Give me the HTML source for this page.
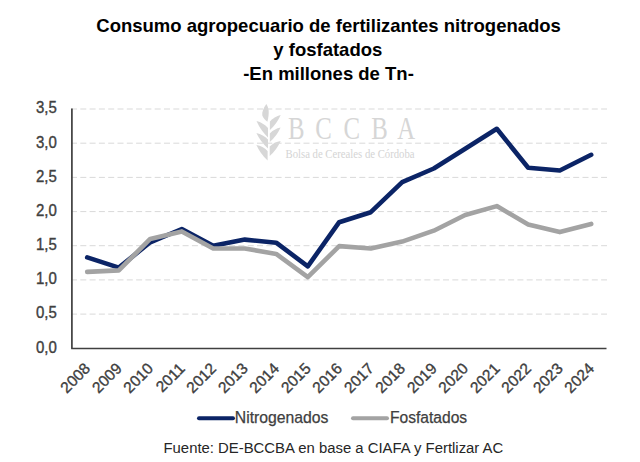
<!DOCTYPE html>
<html><head><meta charset="utf-8"><style>
html,body{margin:0;padding:0;background:#fff;}
body{width:640px;height:462px;overflow:hidden;position:relative;}
svg{position:absolute;left:0;top:0;}
.s{font-family:"Liberation Sans",sans-serif;}
.r{font-family:"Liberation Serif",serif;}
</style></head><body>
<svg width="640" height="462" viewBox="0 0 640 462">
<rect width="640" height="462" fill="#fff"/>
<g class="s" fill="#000" font-weight="bold" font-size="18.5" text-anchor="middle">
<text x="328.6" y="32">Consumo agropecuario de fertilizantes nitrogenados</text>
<text x="327.8" y="56">y fosfatados</text>
<text x="328.5" y="79.8">-En millones de Tn-</text>
</g>
<g fill="#d7d7d7"><path d="M256.50,121.00 Q263.29,122.79 268.00,128.00 L268.00,137.50 Q260.61,130.39 256.50,121.00Z"/><path d="M256.40,133.00 Q263.18,134.51 268.00,139.50 L268.00,148.50 Q260.60,141.95 256.40,133.00Z"/><path d="M256.40,145.00 Q262.94,146.24 267.60,151.00 L267.60,160.50 Q260.38,153.92 256.40,145.00Z"/><path d="M280.70,115.00 Q274.27,116.54 269.90,121.50 L269.90,130.00 Q276.92,123.67 280.70,115.00Z"/><path d="M280.60,127.50 Q274.23,128.75 269.80,133.50 L269.80,142.00 Q276.80,135.94 280.60,127.50Z"/><path d="M280.70,141.00 Q274.31,141.96 269.70,146.50 L269.70,156.00 Q276.81,149.68 280.70,141.00Z"/><path d="M266.3,104 C263.5,108 261.8,112 262.3,115.5 C263,118 265.5,120 267.4,121.8 C268.5,118 269,113 268.6,110 C268.2,107.5 267.4,105.5 266.3,104Z"/>
</g>
<g class="r" fill="#d6d6d6" font-size="31"><text transform="translate(296.2,139) scale(0.8,1)" text-anchor="middle">B</text><text transform="translate(323.5,139) scale(0.8,1)" text-anchor="middle">C</text><text transform="translate(351.75,139) scale(0.8,1)" text-anchor="middle">C</text><text transform="translate(379.5,139) scale(0.8,1)" text-anchor="middle">B</text><text transform="translate(406.3,139) scale(0.8,1)" text-anchor="middle">A</text></g>
<text class="r" fill="#d4d4d4" font-size="13" transform="translate(285.5,158) scale(0.824,1)">Bolsa de Cereales de Córdoba</text>
<g stroke="#d9d9d9" stroke-width="1" stroke-dasharray="6 3.3">
<line x1="71" y1="314.1" x2="607.0" y2="314.1" />
<line x1="71" y1="279.9" x2="607.0" y2="279.9" />
<line x1="71" y1="245.7" x2="607.0" y2="245.7" />
<line x1="71" y1="211.6" x2="607.0" y2="211.6" />
<line x1="71" y1="177.4" x2="607.0" y2="177.4" />
<line x1="71" y1="143.2" x2="607.0" y2="143.2" />
<line x1="71" y1="109.0" x2="607.0" y2="109.0" />
</g>
<g stroke="#404040" stroke-width="1.7" fill="none" stroke-linejoin="round">
<polyline points="71.9,108.6 71.9,348.5 606.5,348.5"/>
</g>
<g fill="none" stroke-width="4.6" stroke-linejoin="round" stroke-linecap="round">
<polyline stroke="#0b2466" points="87.2,257.4 118.8,267.6 150.2,242.3 181.8,229.0 213.2,245.7 244.8,239.6 276.2,242.7 307.8,266.3 339.2,222.2 370.8,212.2 402.2,182.2 433.8,168.5 465.2,148.7 496.8,128.8 528.2,167.8 559.8,170.5 591.2,154.8"/>
<polyline stroke="#a3a3a3" points="87.2,271.9 118.8,270.4 150.2,238.9 181.8,231.4 213.2,248.5 244.8,248.5 276.2,253.9 307.8,277.2 339.2,246.1 370.8,248.5 402.2,241.6 433.8,230.7 465.2,215.0 496.8,206.1 528.2,224.5 559.8,232.1 591.2,223.9"/>
</g>
<g class="s" fill="#404040" stroke="#404040" stroke-width="0.35" font-size="15" text-anchor="end">
<text transform="translate(56.8,352.6) scale(1,1.07)">0,0</text>
<text transform="translate(56.8,318.4) scale(1,1.07)">0,5</text>
<text transform="translate(56.8,284.2) scale(1,1.07)">1,0</text>
<text transform="translate(56.8,250.0) scale(1,1.07)">1,5</text>
<text transform="translate(56.8,215.9) scale(1,1.07)">2,0</text>
<text transform="translate(56.8,181.7) scale(1,1.07)">2,5</text>
<text transform="translate(56.8,147.5) scale(1,1.07)">3,0</text>
<text transform="translate(56.8,113.3) scale(1,1.07)">3,5</text>
</g>
<g class="s" fill="#404040" stroke="#404040" stroke-width="0.35" font-size="15.5" text-anchor="end">
<text transform="translate(91.2,369.5) rotate(-45)" x="0" y="0">2008</text>
<text transform="translate(122.8,369.5) rotate(-45)" x="0" y="0">2009</text>
<text transform="translate(154.2,369.5) rotate(-45)" x="0" y="0">2010</text>
<text transform="translate(185.8,369.5) rotate(-45)" x="0" y="0">2011</text>
<text transform="translate(217.2,369.5) rotate(-45)" x="0" y="0">2012</text>
<text transform="translate(248.8,369.5) rotate(-45)" x="0" y="0">2013</text>
<text transform="translate(280.2,369.5) rotate(-45)" x="0" y="0">2014</text>
<text transform="translate(311.8,369.5) rotate(-45)" x="0" y="0">2015</text>
<text transform="translate(343.2,369.5) rotate(-45)" x="0" y="0">2016</text>
<text transform="translate(374.8,369.5) rotate(-45)" x="0" y="0">2017</text>
<text transform="translate(406.2,369.5) rotate(-45)" x="0" y="0">2018</text>
<text transform="translate(437.8,369.5) rotate(-45)" x="0" y="0">2019</text>
<text transform="translate(469.2,369.5) rotate(-45)" x="0" y="0">2020</text>
<text transform="translate(500.8,369.5) rotate(-45)" x="0" y="0">2021</text>
<text transform="translate(532.2,369.5) rotate(-45)" x="0" y="0">2022</text>
<text transform="translate(563.8,369.5) rotate(-45)" x="0" y="0">2023</text>
<text transform="translate(595.2,369.5) rotate(-45)" x="0" y="0">2024</text>
</g>
<g stroke-width="4" stroke-linecap="round">
<line x1="199" y1="418.2" x2="233" y2="418.2" stroke="#0b2466"/>
<line x1="353" y1="418.2" x2="387" y2="418.2" stroke="#a3a3a3"/>
</g>
<g class="s" fill="#404040" stroke="#404040" stroke-width="0.25">
<text x="234.8" y="423" font-size="15.75">Nitrogenados</text>
<text x="390" y="423" font-size="15.6">Fosfatados</text>
</g>
<text class="s" x="333.4" y="453.3" font-size="14.88" fill="#262626" text-anchor="middle">Fuente: DE-BCCBA en base a CIAFA y Fertlizar AC</text>
</svg>
</body></html>
